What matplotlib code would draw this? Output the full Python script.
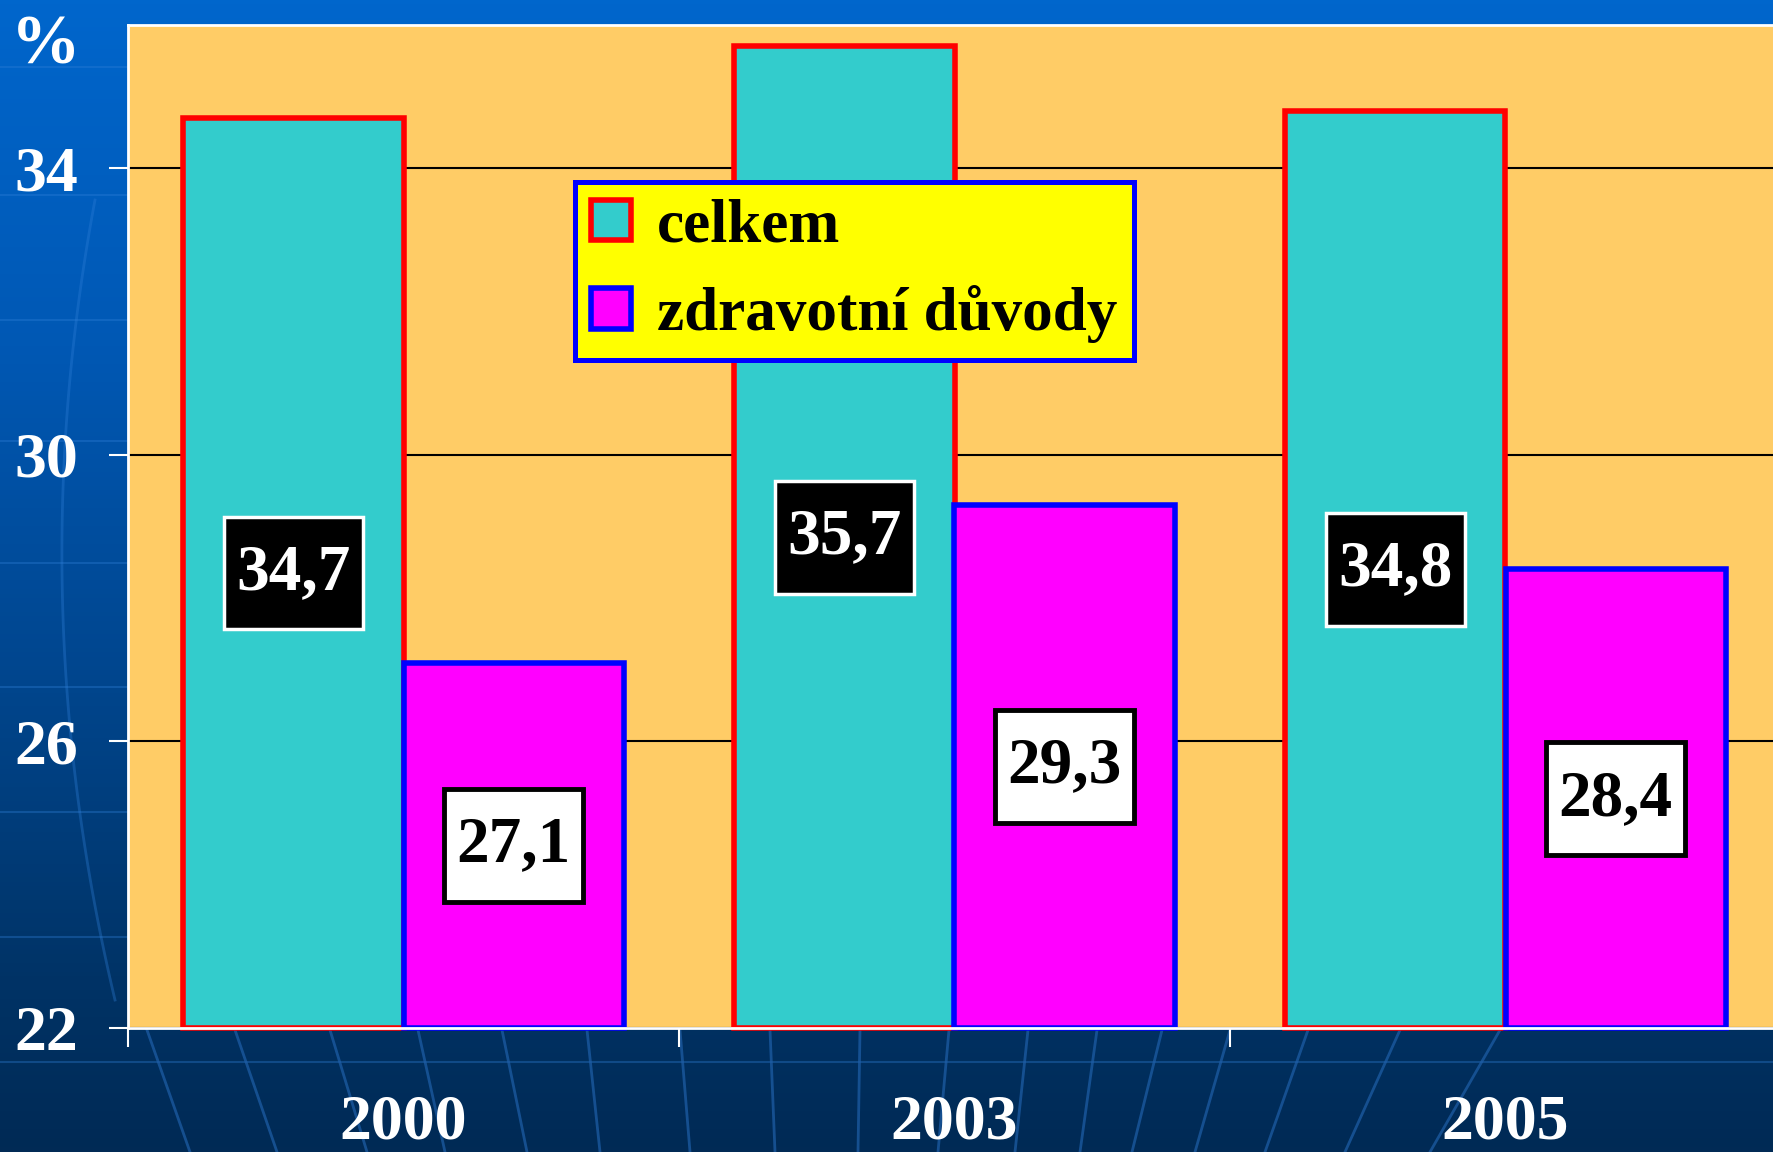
import numpy as np
import matplotlib
matplotlib.use("Agg")
import matplotlib.pyplot as plt
from matplotlib.colors import LinearSegmentedColormap
from matplotlib.patches import Rectangle

# ---- data ----
years = ["2000", "2003", "2005"]
celkem = [34.7, 35.7, 34.8]
zdravotni = [27.1, 29.3, 28.4]
series_names = ["celkem", "zdravotní důvody"]
yticks = [22, 26, 30, 34]
ylabels = ["22", "26", "30", "34"]

plt.rcParams['font.family'] = ['Liberation Serif', 'DejaVu Serif']
plt.rcParams['font.weight'] = 'bold'

W, H = 1774, 1152
fig = plt.figure(figsize=(W / 100, H / 100), dpi=100)

# ---- background gradient ----
bg = fig.add_axes([0, 0, 1, 1], zorder=-10)
cmap = LinearSegmentedColormap.from_list(
    "bg", [(0.0, "#0066CC"), (0.3, "#0058B4"), (0.6, "#00458C"), (0.85, "#003366"), (1.0, "#012A55")])
grad = np.linspace(0, 1, 256).reshape(-1, 1)
bg.imshow(grad, aspect="auto", cmap=cmap, extent=[0, W, H, 0])
bg.set_xlim(0, W)
bg.set_ylim(H, 0)
bg.axis("off")
# faint decorative globe lines
for yy in [67, 195, 320, 441, 563, 687, 812, 937, 1062]:
    bg.plot([0, W], [yy, yy], color="#2F7FD8", lw=1.5, alpha=0.35)
top_x = [147, 235, 330, 418, 502, 587, 680, 770, 860, 949, 1028, 1097, 1162, 1230, 1308, 1400, 1500]
bot_x = [190, 277, 367, 445, 527, 600, 690, 775, 858, 938, 1015, 1080, 1132, 1195, 1265, 1345, 1430]
for tx, bx in zip(top_x, bot_x):
    bg.plot([tx, bx], [1030, 1152], color="#1F5FA8", lw=2, alpha=0.7)
t = np.linspace(0, 1, 100)
arc_x = 95 - 150 * t + 170 * t ** 2
arc_y = 200 + 800 * t
bg.plot(arc_x, arc_y, color="#2F7FD8", lw=2, alpha=0.35)

# ---- main axes ----
left = 128 / W
bottom = (H - 1028) / H
top = 1 - 25 / H
width = 3 * 551 / W
ax = fig.add_axes([left, bottom, width, top - bottom])
ax.set_facecolor("#FFCC66")

x = np.arange(len(years))
bw = 0.4
b1 = ax.bar(x - bw / 2, [v - 22 for v in celkem], bw, bottom=22, color="#33CCCC",
            edgecolor="#FF0000", linewidth=4, label=series_names[0], zorder=3, clip_on=False)
b2 = ax.bar(x + bw / 2, [v - 22 for v in zdravotni], bw, bottom=22, color="#FF00FF",
            edgecolor="#0000FF", linewidth=4, label=series_names[1], zorder=3, clip_on=False)

ax.set_xlim(-0.5, 2.5)
ax.set_ylim(22, 36)
ax.set_yticks(yticks)
ax.set_yticklabels(ylabels)
ax.yaxis.grid(True, color="black", lw=1.5, zorder=0)
ax.set_axisbelow(True)

ax.set_xticks([-0.5, 0.5, 1.5])
ax.set_xticklabels([])
ax.set_xticks(x, minor=True)
ax.set_xticklabels(years, minor=True)
ax.tick_params(axis="x", which="major", direction="out", length=14, width=1.5, color="white")
ax.tick_params(axis="x", which="minor", length=0, pad=48, labelsize=46, labelcolor="white")
ax.tick_params(axis="y", direction="out", length=14, width=1.5, color="white",
               pad=22, labelsize=46, labelcolor="white")

for s in ["left", "bottom", "top"]:
    ax.spines[s].set_color("white")
    ax.spines[s].set_linewidth(2)
    ax.spines[s].set_zorder(4)
ax.spines["right"].set_visible(False)

# value label boxes: size given in pixels, converted to data units
box_w = 139 / 551.0
box_h = 113 / 71.75


def value_label(xc, v, fc, tc, ec, elw):
    yc = (22 + v) / 2
    ax.add_patch(Rectangle((xc - box_w / 2, yc - box_h / 2), box_w, box_h, facecolor=fc,
                           edgecolor=ec, linewidth=elw, zorder=5))
    ax.text(xc, yc, f"{v:.1f}".replace(".", ","), ha="center", va="center",
            fontsize=47, fontweight="bold", color=tc, zorder=6)


for xi, v in zip(x, celkem):
    value_label(xi - bw / 2, v, "black", "white", "white", 2.5)
for xi, v in zip(x, zdravotni):
    value_label(xi + bw / 2, v, "white", "black", "black", 3.5)

leg = ax.legend(loc="upper left", bbox_to_anchor=(0.2704, 0.8435), borderaxespad=0,
                prop={"weight": "bold", "size": 44}, fancybox=False, framealpha=1,
                facecolor="#FFFF00", edgecolor="#0000FF", handlelength=0.65, handleheight=0.65,
                handletextpad=0.42, labelspacing=0.5, borderpad=0.27)
leg.get_frame().set_linewidth(3.6)
leg.set_zorder(7)

fig.text(46 / W, 1 - 46 / H, "%", ha="center", va="center", fontsize=50,
         fontweight="bold", color="white")

fig.savefig("out.png", dpi=100)
